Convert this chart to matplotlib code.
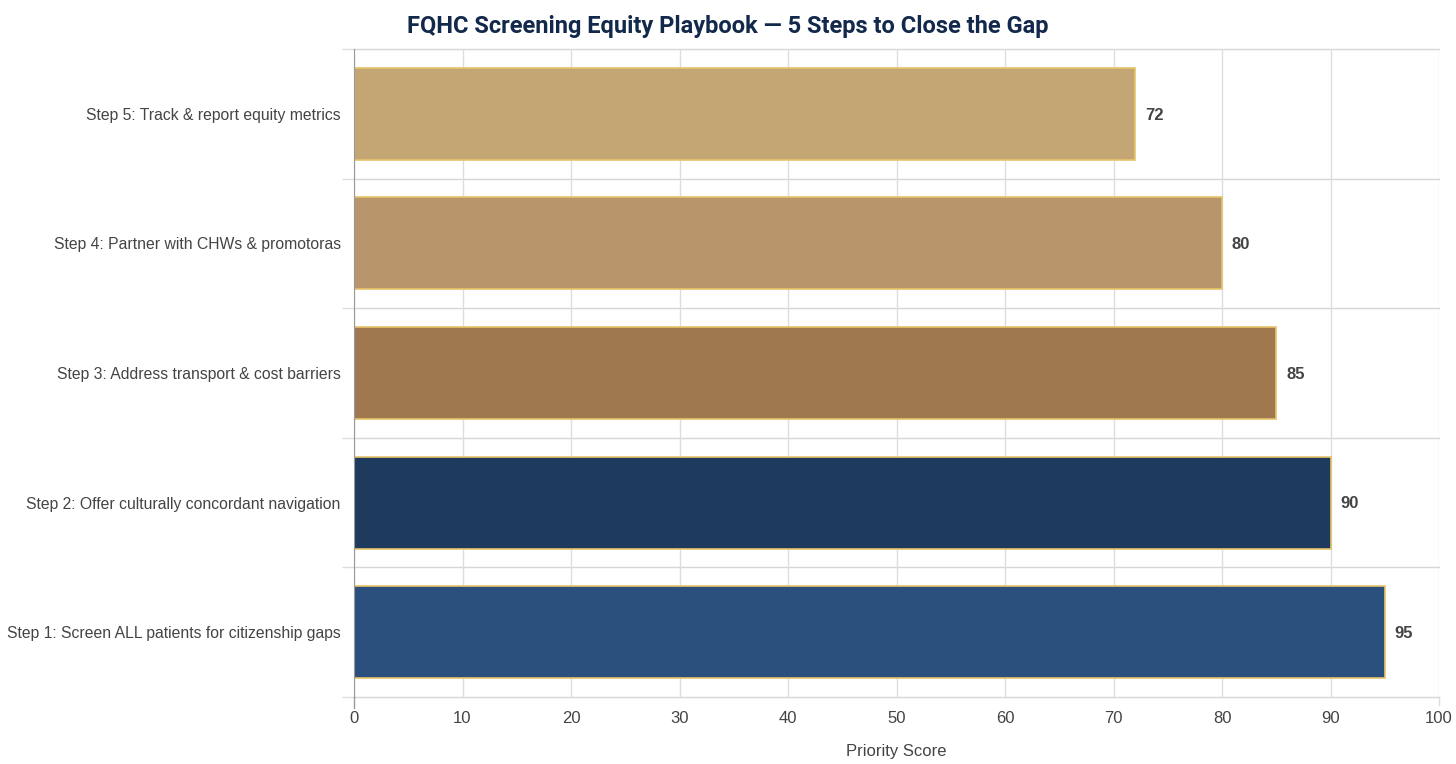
import matplotlib.pyplot as plt

# Data
steps = [
    "Step 1: Screen ALL patients for citizenship gaps",
    "Step 2: Offer culturally concordant navigation",
    "Step 3: Address transport & cost barriers",
    "Step 4: Partner with CHWs & promotoras",
    "Step 5: Track & report equity metrics",
]
scores = [95, 90, 85, 80, 72]
bar_colors = ["#2b507e", "#1e3a5c", "#a07850", "#b8956b", "#c4a574"]
x_ticks = [0, 10, 20, 30, 40, 50, 60, 70, 80, 90, 100]

plt.rcParams["font.family"] = ["Liberation Sans", "DejaVu Sans"]

fig = plt.figure(figsize=(14.56, 7.64), dpi=100)
ax = fig.add_axes([354 / 1456, 1 - 697 / 764, (1439 - 354) / 1456, (697 - 49) / 764])

pos = list(range(len(steps)))
ax.barh(pos, scores, height=0.71, color=bar_colors, edgecolor="#e8c46a", linewidth=1.2, zorder=3)

for p, s in zip(pos, scores):
    ax.text(s + 0.9, p - 0.01, str(s), va="center", ha="left", fontsize=12,
            fontweight="bold", color="#444444")

ax.set_xlim(0, 100)
ax.set_ylim(-0.5, len(steps) - 0.5)
ax.set_xticks(x_ticks)
ax.set_yticks(pos)
ax.set_yticklabels(steps)
ax.set_yticks([p - 0.5 for p in pos] + [len(steps) - 0.5], minor=True)

ax.grid(axis="x", color="#dddddd", linewidth=1, zorder=0)
for b in [p - 0.5 for p in pos] + [len(steps) - 0.5]:
    ax.axhline(b, color="#d6d6d6", linewidth=1, zorder=1, clip_on=False)
ax.tick_params(axis="y", which="major", length=0, pad=9.5, labelsize=11.3, labelcolor="#444444")
ax.tick_params(axis="y", which="minor", length=9, color="#dddddd", width=1)
ax.tick_params(axis="x", length=0, pad=10, labelsize=12, labelcolor="#444444")

for side in ["top", "right", "bottom"]:
    ax.spines[side].set_visible(False)
ax.spines["left"].set_color("#999999")
ax.spines["left"].set_zorder(4)
ax.spines["left"].set_bounds(-0.5, len(steps) - 0.5)
ax.plot([0, 0], [-0.5, -0.585], color="#999999", linewidth=1, clip_on=False)
ax.plot([100, 100], [-0.5, -0.565], color="#dddddd", linewidth=1, clip_on=False)

ax.set_xlabel("Priority Score", fontsize=12, color="#444444", labelpad=13)
fig.text(728 / 1456, 1 - 26 / 764, "FQHC Screening Equity Playbook \u2014 5 Steps to Close the Gap",
         ha="center", va="center", fontsize=17, fontweight="bold", color="#13294b",
         family=["Roboto", "DejaVu Sans"])

fig.savefig("out.png", dpi=100)
